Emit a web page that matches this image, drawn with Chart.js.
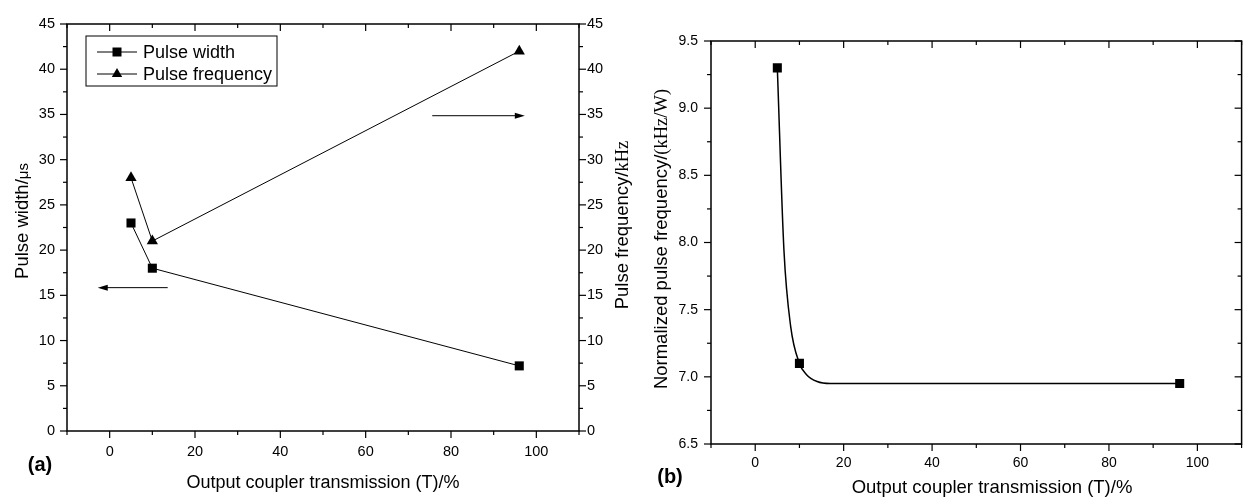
<!DOCTYPE html>
<html>
<head>
<meta charset="utf-8">
<script src="https://cdn.jsdelivr.net/npm/chart.js@4.4.1/dist/chart.umd.min.js"></script>
<style>
  body { margin: 0; background: #fff; }
  #wrap { position: relative; width: 1248px; height: 497px; overflow: hidden; }
  canvas { position: absolute; top: 0; }
  #chartA { left: 0; }
  #chartB { left: 630px; }
</style>
</head>
<body>
<div id="wrap">
  <canvas id="chartA" width="640" height="497"></canvas>
  <canvas id="chartB" width="618" height="497"></canvas>
</div>
<script>
// (a) pulse width / pulse frequency against output coupler transmission
const transmission = [5, 10, 96];
const pulseWidth = [23, 18, 7.2];
const pulseFreq = [28, 21, 42];

// (b) normalized pulse frequency, markers + points
const normFreq = [9.3, 7.1, 6.95];
const curveT = [5, 6.5, 8, 10, 11.5, 14, 17, 96];
const curveF = [9.3, 7.94, 7.38, 7.1, 7.02, 6.965, 6.95, 6.95];

// tick labels
const xTicks = [0, 20, 40, 60, 80, 100];
const yTicksA = [0, 5, 10, 15, 20, 25, 30, 35, 40, 45];
const yTicksB = [6.5, 7.0, 7.5, 8.0, 8.5, 9.0, 9.5];

const SANS = '"Liberation Sans", Arial, sans-serif';
const SERIF = '"Liberation Serif", "Times New Roman", serif';
Chart.defaults.color = '#000';
Chart.defaults.font.family = SANS;

const tickFont = { size: 14.5 };

function setTicks(list) {
  return scale => { scale.ticks = list.map(v => ({ value: v })); };
}

// frame round the plot area plus major / minor tick marks
const frameTicks = {
  id: 'frameTicks',
  afterDatasetsDraw(chart, args, opts) {
    const { ctx, chartArea: a } = chart;
    ctx.save();
    ctx.strokeStyle = '#000';
    ctx.lineWidth = 1.5;
    ctx.strokeRect(a.left, a.top, a.right - a.left, a.bottom - a.top);
    ctx.lineWidth = 1.2;
    opts.sides.forEach(s => {
      const sc = chart.scales[s.scale];
      const majors = sc.ticks.map(t => t.value);
      const step = majors[1] - majors[0];
      const marks = majors.map(v => [v, 7]);
      for (let v = majors[0] - step / 2; v <= sc.max + 1e-9; v += step) {
        if (v >= sc.min - 1e-9) marks.push([v, 4]);
      }
      marks.forEach(([v, len]) => {
        const p = sc.getPixelForValue(v);
        const d = s.out ? len : -len;
        ctx.beginPath();
        if (s.edge === 'bottom') { ctx.moveTo(p, a.bottom); ctx.lineTo(p, a.bottom + d); }
        if (s.edge === 'top') { ctx.moveTo(p, a.top); ctx.lineTo(p, a.top - d); }
        if (s.edge === 'left') { ctx.moveTo(a.left, p); ctx.lineTo(a.left - d, p); }
        if (s.edge === 'right') { ctx.moveTo(a.right, p); ctx.lineTo(a.right + d, p); }
        ctx.stroke();
      });
    });
    ctx.restore();
  }
};

function drawRich(ctx, parts, x, y, rot) {
  ctx.save();
  ctx.translate(x, y);
  ctx.rotate(rot);
  let total = 0;
  parts.forEach(p => { ctx.font = p.font; p.w = ctx.measureText(p.text).width; total += p.w; });
  let cx = -total / 2;
  ctx.fillStyle = '#000';
  ctx.textAlign = 'left';
  ctx.textBaseline = 'alphabetic';
  parts.forEach(p => { ctx.font = p.font; ctx.fillText(p.text, cx, 0); cx += p.w; });
  ctx.restore();
}

// axis titles and panel letters
const titles = {
  id: 'titles',
  afterDraw(chart, args, opts) {
    opts.items.forEach(it => drawRich(chart.ctx, it.parts, it.x, it.y, it.rot || 0));
  }
};

// arrows pointing at the axis each curve belongs to
const arrows = {
  id: 'arrows',
  afterDatasetsDraw(chart, args, opts) {
    const { ctx } = chart;
    const xs = chart.scales.x;
    ctx.save();
    ctx.strokeStyle = '#000';
    ctx.fillStyle = '#000';
    ctx.lineWidth = 1;
    opts.items.forEach(ar => {
      const y = chart.scales[ar.scale].getPixelForValue(ar.y);
      const x0 = xs.getPixelForValue(ar.from);
      const x1 = xs.getPixelForValue(ar.to);
      const dir = Math.sign(x1 - x0);
      ctx.beginPath();
      ctx.moveTo(x0, y);
      ctx.lineTo(x1 - dir * 8, y);
      ctx.stroke();
      ctx.beginPath();
      ctx.moveTo(x1, y);
      ctx.lineTo(x1 - dir * 10, y - 3);
      ctx.lineTo(x1 - dir * 10, y + 3);
      ctx.closePath();
      ctx.fill();
    });
    ctx.restore();
  }
};

function drawMarker(ctx, style, x, y) {
  ctx.beginPath();
  if (style === 'rect') {
    ctx.rect(x - 4.5, y - 4.5, 9, 9);
  } else {
    ctx.moveTo(x, y - 6);
    ctx.lineTo(x + 5.2, y + 3);
    ctx.lineTo(x - 5.2, y + 3);
    ctx.closePath();
  }
  ctx.fill();
}

// boxed legend inside the plot area of (a)
const boxLegend = {
  id: 'boxLegend',
  afterDraw(chart, args, opts) {
    const { ctx } = chart;
    ctx.save();
    ctx.strokeStyle = '#000';
    ctx.fillStyle = '#000';
    ctx.lineWidth = 1;
    ctx.strokeRect(opts.x, opts.y, opts.w, opts.h);
    chart.data.datasets.forEach((ds, i) => {
      const y = opts.y + 16 + i * 22;
      ctx.beginPath();
      ctx.moveTo(opts.x + 11, y);
      ctx.lineTo(opts.x + 51, y);
      ctx.stroke();
      drawMarker(ctx, ds.pointStyle, opts.x + 31, y);
      ctx.font = '18px ' + SANS;
      ctx.textBaseline = 'middle';
      ctx.fillText(ds.label, opts.x + 57, y + 1);
    });
    ctx.restore();
  }
};

new Chart(document.getElementById('chartA'), {
  type: 'line',
  data: {
    datasets: [{
      label: 'Pulse width',
      data: transmission.map((t, i) => ({ x: t, y: pulseWidth[i] })),
      yAxisID: 'y',
      borderColor: '#000',
      backgroundColor: '#000',
      borderWidth: 1,
      pointStyle: 'rect',
      pointRadius: 6.4,
      pointBorderWidth: 0
    }, {
      label: 'Pulse frequency',
      data: transmission.map((t, i) => ({ x: t, y: pulseFreq[i] })),
      yAxisID: 'y2',
      borderColor: '#000',
      backgroundColor: '#000',
      borderWidth: 1,
      pointStyle: 'triangle',
      pointRadius: 6.5,
      pointBorderWidth: 0
    }]
  },
  options: {
    responsive: false,
    animation: false,
    layout: { padding: { top: 24, left: 0, right: 0, bottom: 0 } },
    scales: {
      x: {
        type: 'linear', min: -10, max: 110,
        afterBuildTicks: setTicks(xTicks),
        afterFit: s => { s.height = 66; },
        grid: { display: false, drawTicks: false },
        border: { display: false },
        ticks: { font: tickFont, padding: 12, maxRotation: 0 }
      },
      y: {
        position: 'left', min: 0, max: 45,
        afterBuildTicks: setTicks(yTicksA),
        afterFit: s => { s.width = 67; },
        grid: { display: false, drawTicks: false },
        border: { display: false },
        ticks: { font: tickFont, padding: 12 }
      },
      y2: {
        position: 'right', min: 0, max: 45,
        afterBuildTicks: setTicks(yTicksA),
        afterFit: s => { s.width = 61; },
        grid: { display: false, drawTicks: false },
        border: { display: false },
        ticks: { font: tickFont, padding: 8 }
      }
    },
    plugins: {
      legend: { display: false },
      tooltip: { enabled: false },
      frameTicks: {
        sides: [
          { scale: 'x', edge: 'bottom', out: true },
          { scale: 'x', edge: 'top', out: false },
          { scale: 'y', edge: 'left', out: true },
          { scale: 'y2', edge: 'right', out: true }
        ]
      },
      arrows: {
        items: [
          { scale: 'y', y: 15.85, from: 13.6, to: -2.8 },
          { scale: 'y2', y: 34.86, from: 75.6, to: 97.3 }
        ]
      },
      boxLegend: { x: 86, y: 36, w: 191, h: 50 },
      titles: {
        items: [
          { parts: [{ text: 'Pulse width/', font: '18.5px ' + SANS }, { text: 'μs', font: '15px ' + SANS }], x: 28, y: 221, rot: -Math.PI / 2 },
          { parts: [{ text: 'Pulse frequency/', font: '18.5px ' + SANS }, { text: 'kHz', font: '18.5px ' + SERIF }], x: 628, y: 225, rot: -Math.PI / 2 },
          { parts: [{ text: 'Output coupler transmission (T)/%', font: '18px ' + SANS }], x: 323, y: 488 },
          { parts: [{ text: '(a)', font: 'bold 20px ' + SANS }], x: 40, y: 471 }
        ]
      }
    }
  },
  plugins: [frameTicks, arrows, boxLegend, titles]
});

new Chart(document.getElementById('chartB'), {
  type: 'line',
  data: {
    datasets: [{
      label: 'curve',
      data: curveT.map((t, i) => ({ x: t, y: curveF[i] })),
      borderColor: '#000',
      borderWidth: 1.5,
      cubicInterpolationMode: 'monotone',
      pointRadius: 0
    }, {
      label: 'Normalized pulse frequency',
      data: transmission.map((t, i) => ({ x: t, y: normFreq[i] })),
      showLine: false,
      backgroundColor: '#000',
      borderColor: '#000',
      pointStyle: 'rect',
      pointRadius: 6.4,
      pointBorderWidth: 0
    }]
  },
  options: {
    responsive: false,
    animation: false,
    layout: { padding: { top: 41, left: 0, right: 1, bottom: 0 } },
    scales: {
      x: {
        type: 'linear', min: -10, max: 110,
        afterBuildTicks: setTicks(xTicks),
        afterFit: s => { s.height = 53; },
        grid: { display: false, drawTicks: false },
        border: { display: false },
        ticks: { font: { size: 14 }, padding: 10.5, maxRotation: 0 }
      },
      y: {
        position: 'left', min: 6.5, max: 9.5,
        afterBuildTicks: setTicks(yTicksB),
        afterFit: s => { s.width = 81; },
        grid: { display: false, drawTicks: false },
        border: { display: false },
        ticks: { font: { size: 14 }, padding: 13, callback: v => v.toFixed(1) }
      }
    },
    plugins: {
      legend: { display: false },
      tooltip: { enabled: false },
      frameTicks: {
        sides: [
          { scale: 'x', edge: 'bottom', out: true },
          { scale: 'x', edge: 'top', out: false },
          { scale: 'y', edge: 'left', out: true },
          { scale: 'y', edge: 'right', out: false }
        ]
      },
      titles: {
        items: [
          { parts: [{ text: 'Normalized pulse frequency/', font: '18.5px ' + SANS }, { text: '(kHz/W)', font: '18.5px ' + SERIF }], x: 37, y: 239, rot: -Math.PI / 2 },
          { parts: [{ text: 'Output coupler transmission (T)/%', font: '18.5px ' + SANS }], x: 362, y: 493 },
          { parts: [{ text: '(b)', font: 'bold 20px ' + SANS }], x: 40, y: 483 }
        ]
      }
    }
  },
  plugins: [frameTicks, titles]
});
</script>
</body>
</html>
